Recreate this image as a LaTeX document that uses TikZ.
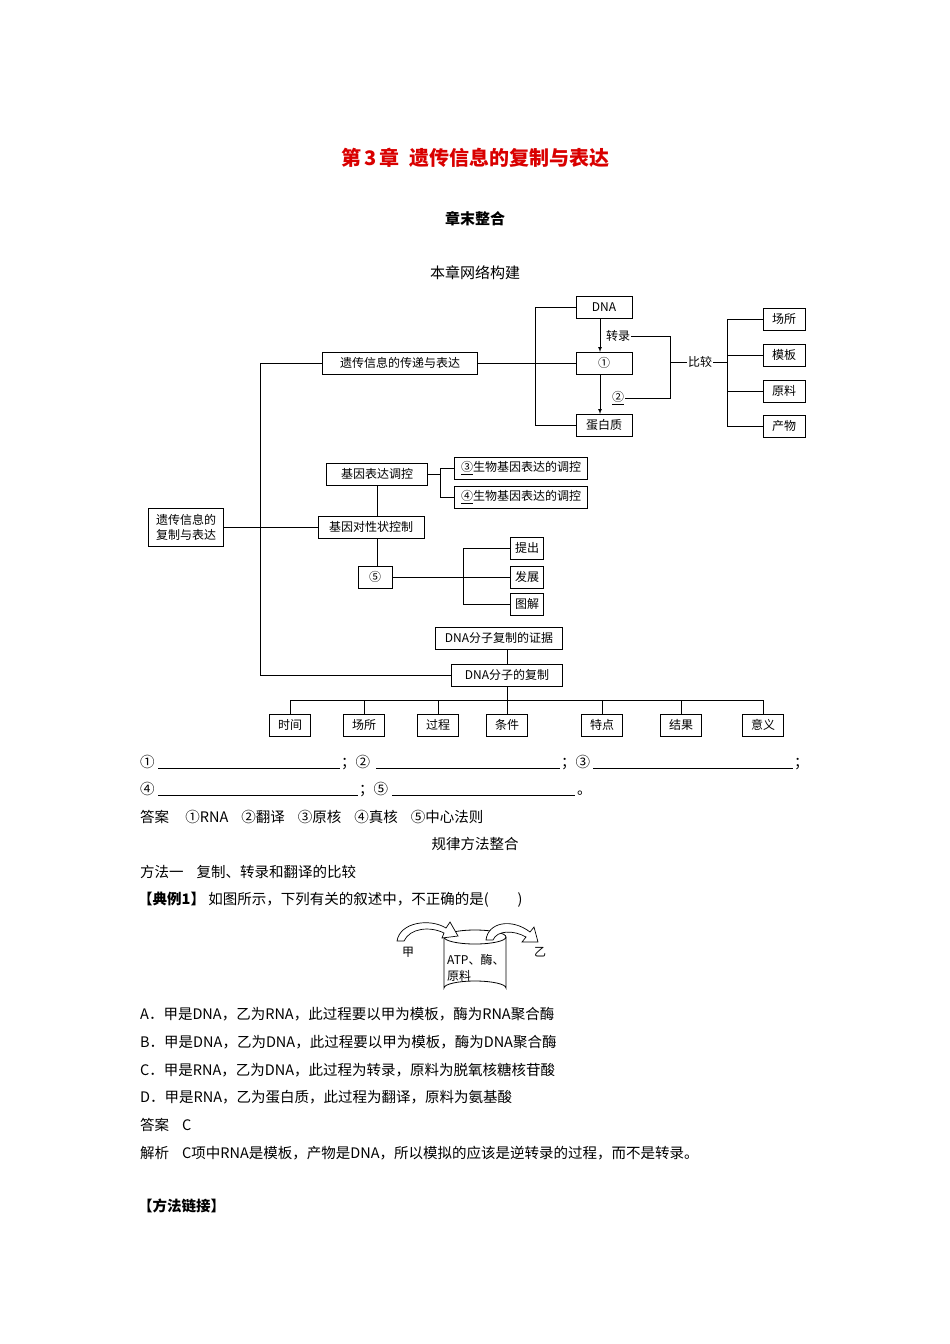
\documentclass[tikz,border=0pt]{standalone}
\usepackage{fontspec}
\setmainfont{Liberation Serif}
\newfontfamily\cjk{Noto Sans CJK SC}
\begin{document}
\begin{tikzpicture}[x=1pt,y=-1pt,
  bx/.style={draw,line width=0.8pt,minimum height=22pt,inner sep=2pt,font=\cjk\fontsize{12}{14}\selectfont},
  ln/.style={line width=0.7pt},
  tx/.style={anchor=west,inner sep=0pt,font=\cjk\fontsize{15}{18}\selectfont},
  tk/.style={anchor=base west,inner sep=0pt,font=\cjk\fontsize{14.5}{18}\selectfont},
  lab/.style={inner sep=1pt,font=\cjk\fontsize{12}{14}\selectfont}]
\useasboundingbox (0,0) rectangle (950,1344);
\fill[white] (0,0) rectangle (950,1344);
\node[font=\cjk\bfseries\fontsize{20}{24}\selectfont,text=red!85!black] (title) at (475,158) {第\,3\,章\ \ 遗传信息的复制与表达};
\node[font=\cjk\bfseries\fontsize{15}{18}\selectfont] (sub) at (475,219) {章末整合};
\node[font=\cjk\fontsize{15}{18}\selectfont] (net) at (475,273) {本章网络构建};
% top cluster
\node[bx,minimum width=56pt] (dna) at (604,307) {DNA};
\node[bx,minimum width=56pt] (c1) at (604,363) {①};
\node[bx,minimum width=56pt] (pro) at (604,425) {蛋白质};
\node[bx,minimum width=155pt] (trans) at (400,363) {遗传信息的传递与表达};
\draw[ln] (dna.west) -- (535,307) -- (535,425) -- (pro.west);
\draw[ln] (trans.east) -- (c1.west);
\draw[ln,-latex] (600,318) -- (600,352);
\draw[ln,-latex] (600,374) -- (600,414);
\node[lab] (zl) at (618,336) {转录};
\node[lab] (c2) at (618,398) {\underline{②}};
\coordinate (j1) at (670,336); \coordinate (j2) at (670,398);
\draw[ln] (zl.east) -- (j1) -- (j2) -- (c2.east);
\node[lab] (bj) at (700,362) {比较};
\draw[ln] (670,362) -- (bj.west);
\node[bx,minimum width=42pt] (s1) at (784,319) {场所};
\node[bx,minimum width=42pt] (s2) at (784,355) {模板};
\node[bx,minimum width=42pt] (s3) at (784,391) {原料};
\node[bx,minimum width=42pt] (s4) at (784,426) {产物};
\draw[ln] (bj.east) -- (727,362);
\draw[ln] (s1.west) -- (727,319) -- (727,426) -- (s4.west);
\draw[ln] (727,355) -- (s2.west); \draw[ln] (727,391) -- (s3.west);
% main
\node[bx,minimum width=75pt,minimum height=38pt,align=center,font=\cjk\fontsize{12}{15}\selectfont] (root) at (186,527) {遗传信息的\\复制与表达};
\node[bx,minimum width=101pt] (tk1) at (377,474) {基因表达调控};
\node[bx,minimum width=106pt] (tk2) at (371,527) {基因对性状控制};
\node[bx,minimum width=133pt] (b3) at (521,468) {\underline{③}生物基因表达的调控};
\node[bx,minimum width=133pt] (b4) at (521,497) {\underline{④}生物基因表达的调控};
\node[bx,minimum width=34pt] (c5) at (375,577) {⑤};
\node[bx,minimum width=33pt] (t1) at (527,548) {提出};
\node[bx,minimum width=33pt] (t2) at (527,577) {发展};
\node[bx,minimum width=33pt] (t3) at (527,604) {图解};
\node[bx,minimum width=127pt] (ev) at (499,638) {DNA分子复制的证据};
\node[bx,minimum width=111pt] (rep) at (507,675) {DNA分子的复制};
\draw[ln] (trans.west) -- (260,363) -- (260,675) -- (rep.west);
\draw[ln] (root.east) -- (tk2.west);
\draw[ln] (tk1.south) -- (tk1.south |- tk2.north);
\draw[ln] (tk1.east) -- (440,474);
\draw[ln] (b3.west) -- (440,468) -- (440,497) -- (b4.west);
\draw[ln] (377,539) -- (c5.north -| 377,0);
\draw[ln] (c5.east) -- (t2.west);
\draw[ln] (t1.west) -- (463,548) -- (463,604) -- (t3.west);
\draw[ln] (ev.south -| rep.north) -- (rep.north);
\foreach \n/\x/\t in {q1/290/时间,q2/364/场所,q3/438/过程,q4/507/条件,q5/602/特点,q6/681/结果,q7/763/意义}{
  \node[bx,minimum width=41pt] (\n) at (\x,725) {\t};
  \draw[ln] (\n.north) -- (\x,700);
}
\draw[ln] (290,700) -- (763,700);
\draw[ln] (rep.south) -- (507,700);
% blanks
\node[tk] (f1) at (140,767) {①};
\draw (158,768) -- (340,768);
\node[tk] at (341,767) {；②};
\draw (376,768) -- (560,768);
\node[tk] at (561,767) {；③};
\draw (593,768) -- (793,768);
\node[tk] at (794,767) {；};
\node[tk] at (140,794) {④};
\draw (158,795) -- (358,795);
\node[tk] at (359,794) {；⑤};
\draw (392,795) -- (575,795);
\node[tk] at (577,794) {。};
\node[tk] at (140,822) {答案\ \ \ \ \ ①RNA\ \ \ \ ②翻译\ \ \ \ ③原核\ \ \ \ ④真核\ \ \ \ ⑤中心法则};
\node[font=\cjk\fontsize{14.5}{18}\selectfont] at (475,844) {规律方法整合};
\node[tk] at (140,877) {方法一\ \ \ \ 复制、转录和翻译的比较};
\node[tk] at (138,904) {\bfseries【典例1】\mdseries\ 如图所示，下列有关的叙述中，不正确的是(\qquad)};
% cylinder
\draw[line width=0.8pt,fill=white] (444,937) -- (444,988) arc[start angle=180,end angle=360,x radius=31,y radius=7] -- (506,937);
\draw[line width=0.8pt] (475,937) ellipse[x radius=31,y radius=7];
\draw[line width=0.7pt,fill=white] (397,941) .. controls (400,922) and (430,918) .. (446,928) -- (450,922) -- (458,936) -- (442,938) -- (444,933) .. controls (430,926) and (410,928) .. (404,941) -- cycle;
\draw[line width=0.7pt,fill=white] (486,940) .. controls (488,922) and (512,918) .. (530,932) -- (534,927) -- (538,942) -- (522,942) -- (526,937) .. controls (514,930) and (497,930) .. (493,940) -- cycle;
\node[lab] (jia) at (408,952) {甲};
\node[lab] (yi) at (540,952) {乙};
\node[lab,anchor=west] at (446,960) {ATP、酶、};
\node[lab,anchor=west] at (446,976) {原料};
\node[tk] at (140,1019) {A．甲是DNA，乙为RNA，此过程要以甲为模板，酶为RNA聚合酶};
\node[tk] at (140,1047) {B．甲是DNA，乙为DNA，此过程要以甲为模板，酶为DNA聚合酶};
\node[tk] at (140,1075) {C．甲是RNA，乙为DNA，此过程为转录，原料为脱氧核糖核苷酸};
\node[tk] at (140,1102) {D．甲是RNA，乙为蛋白质，此过程为翻译，原料为氨基酸};
\node[tk] at (140,1130) {答案\ \ \ \ C};
\node[tk] at (140,1158) {解析\ \ \ \ C项中RNA是模板，产物是DNA，所以模拟的应该是逆转录的过程，而不是转录。};
\node[tk] at (138,1211) {\bfseries【方法链接】};
\end{tikzpicture}
\end{document}
